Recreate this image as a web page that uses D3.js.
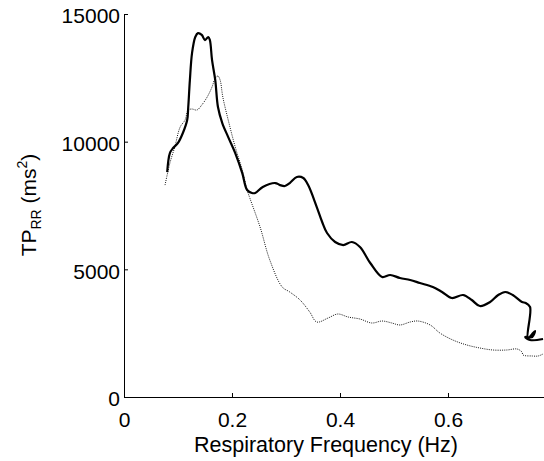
<!DOCTYPE html>
<html>
<head>
<meta charset="utf-8">
<script src="https://cdn.jsdelivr.net/npm/d3@7"></script>
<style>
  body { margin: 0; background: #fff; }
  svg { font-family: "Liberation Sans", Arial, sans-serif; }
</style>
</head>
<body>
<div id="chart"></div>
<script>
// values
var solidFreq = [0.080, 0.085, 0.091, 0.100, 0.109, 0.117, 0.119, 0.122, 0.126, 0.132, 0.137, 0.144, 0.150, 0.156, 0.159, 0.163, 0.169, 0.174, 0.182, 0.193, 0.206, 0.219, 0.228, 0.237, 0.243, 0.257, 0.280, 0.289, 0.298, 0.307, 0.320, 0.332, 0.341, 0.357, 0.367, 0.376, 0.391, 0.406, 0.422, 0.437, 0.456, 0.478, 0.493, 0.511, 0.530, 0.548, 0.572, 0.589, 0.607, 0.628, 0.644, 0.659, 0.678, 0.693, 0.706, 0.720, 0.737, 0.744, 0.752, 0.748, 0.761, 0.756, 0.743, 0.752, 0.776];
var solidPower = [8810, 9555, 9750, 9950, 10340, 10850, 11360, 12410, 13470, 14100, 14250, 14180, 13980, 14100, 13980, 13200, 12410, 11360, 10730, 10180, 9555, 8770, 8106, 7990, 7990, 8224, 8380, 8300, 8263, 8380, 8615, 8576, 8300, 7440, 6853, 6422, 6070, 5952, 6070, 5874, 5247, 4700, 4778, 4660, 4582, 4464, 4308, 4112, 3877, 3994, 3799, 3564, 3720, 3994, 4112, 3994, 3720, 3681, 3524, 2310, 2585, 2350, 2350, 2232, 2271];

var dotFreq = [0.076, 0.085, 0.094, 0.104, 0.113, 0.119, 0.126, 0.135, 0.144, 0.154, 0.163, 0.169, 0.174, 0.178, 0.183, 0.193, 0.206, 0.219, 0.228, 0.233, 0.252, 0.270, 0.293, 0.307, 0.326, 0.344, 0.357, 0.378, 0.396, 0.415, 0.437, 0.459, 0.478, 0.496, 0.511, 0.530, 0.544, 0.567, 0.585, 0.609, 0.635, 0.659, 0.683, 0.709, 0.728, 0.737, 0.739, 0.756, 0.767, 0.776];
var dotPower = [8300, 9163, 9790, 10573, 10847, 11239, 11278, 11239, 11435, 11748, 12140, 12492, 12570, 12414, 11748, 10847, 9790, 8889, 8106, 7793, 6657, 5365, 4308, 4112, 3799, 3329, 2937, 3094, 3250, 3133, 3054, 2898, 2976, 2898, 2820, 2937, 2976, 2820, 2506, 2232, 2036, 1919, 1841, 1841, 1880, 1762, 1645, 1606, 1606, 1684];

var xTicks = [0, 0.2, 0.4, 0.6];
var yTicks = [0, 5000, 10000, 15000];

function drawChart() {
    var width = 544, height = 461;
    var plotLeft = 124, plotRight = 544, plotTop = 14, plotBottom = 397;

    var svg = d3.select("#chart").append("svg")
        .attr("width", width)
        .attr("height", height);

    var x = d3.scaleLinear().domain([0, 0.7778]).range([plotLeft, plotRight]);
    var y = d3.scaleLinear().domain([0, 15000]).range([plotBottom, plotTop]);

    var solid = solidFreq.map(function (f, i) { return [f, solidPower[i]]; });
    var dotted = dotFreq.map(function (f, i) { return [f, dotPower[i]]; });

    var line = d3.line()
        .x(function (d) { return x(d[0]); })
        .y(function (d) { return y(d[1]); })
        .curve(d3.curveCatmullRom.alpha(0.5));

    svg.append("path")
        .datum(dotted)
        .attr("d", line)
        .attr("fill", "none")
        .attr("stroke", "#111")
        .attr("stroke-width", 1)
        .attr("stroke-dasharray", "1,1.2");

    svg.append("path")
        .datum(solid)
        .attr("d", line)
        .attr("fill", "none")
        .attr("stroke", "#000")
        .attr("stroke-width", 2.2)
        .attr("stroke-linejoin", "round");

    // axes, ticks pointing inward
    var xAxis = svg.append("g")
        .attr("transform", "translate(0," + plotBottom + ")")
        .call(d3.axisBottom(x).tickValues(xTicks).tickFormat(d3.format("")).tickSizeInner(-4).tickSizeOuter(0).tickPadding(15));

    var yAxis = svg.append("g")
        .attr("transform", "translate(" + plotLeft + ",0)")
        .call(d3.axisLeft(y).tickValues(yTicks).tickFormat(d3.format("")).tickSizeInner(-4).tickSizeOuter(0).tickPadding(4));

    [xAxis, yAxis].forEach(function (g) {
        g.selectAll("text")
            .attr("font-size", 21)
            .attr("font-family", "Liberation Sans, Arial, sans-serif")
            .attr("fill", "#000");
        g.selectAll("line, path").attr("stroke", "#000");
    });

    yAxis.selectAll("text").attr("dy", "0.42em");

    svg.append("text")
        .attr("x", 326)
        .attr("y", 452)
        .attr("text-anchor", "middle")
        .attr("font-size", 21.5)
        .text("Respiratory Frequency (Hz)");

    var ylab = svg.append("text")
        .attr("transform", "translate(36,205) rotate(-90)")
        .attr("text-anchor", "middle")
        .attr("font-size", 21);
    ylab.append("tspan").text("TP");
    ylab.append("tspan").attr("font-size", 14).attr("dy", 5).text("RR");
    ylab.append("tspan").attr("dy", -5).text(" (ms");
    ylab.append("tspan").attr("font-size", 14).attr("dy", -9).text("2");
    ylab.append("tspan").attr("dy", 9).text(")");
}

drawChart();
</script>
</body>
</html>
